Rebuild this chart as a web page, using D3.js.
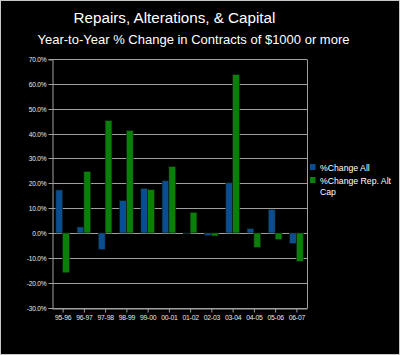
<!DOCTYPE html>
<html><head><meta charset="utf-8">
<script src="https://cdn.jsdelivr.net/npm/d3@7"></script>
<style>html,body{margin:0;padding:0;background:#000;}svg{display:block;}</style>
</head><body>
<script>
const categories = ["95-96","96-97","97-98","98-99","99-00","00-01","01-02","02-03","03-04","04-05","05-06","06-07"];
const seriesNames = ["%Change All", "%Change Rep. Alt Cap"];
const changeAll = [17.3, 2.4, -6.6, 13.0, 17.9, 21.0, -0.4, -1.0, 20.2, 1.7, 9.4, -4.2];
const changeRepAltCap = [-16.0, 24.7, 45.2, 41.2, 17.4, 26.7, 8.3, -1.2, 63.7, -5.8, -2.6, -11.4];
const yTicks = [70, 60, 50, 40, 30, 20, 10, 0, -10, -20, -30];
const title = "Repairs, Alterations, & Capital";
const subtitle = "Year-to-Year % Change in Contracts of $1000 or more";

const W = 400, H = 355;
const colors = ["#0b4d91", "#0a7f0a"];
const font = "'Liberation Sans', Arial, sans-serif";

const svg = d3.select("body").append("svg").attr("width", W).attr("height", H);
svg.append("rect").attr("x",0).attr("y",0).attr("width",W).attr("height",H).attr("fill","#000");
svg.append("rect").attr("x",0.5).attr("y",0.5).attr("width",W-1).attr("height",H-1)
  .attr("fill","none").attr("stroke","#c8c8c8").attr("stroke-width",1);

svg.append("text").attr("x",174.5).attr("y",22.5).attr("text-anchor","middle")
  .attr("fill","#fff").attr("font-family",font).attr("font-size",15.2).text(title);
svg.append("text").attr("x",193.5).attr("y",44).attr("text-anchor","middle")
  .attr("fill","#fff").attr("font-family",font).attr("font-size",13).text(subtitle);

const plot = {left:52, right:307, top:59, bottom:307.5};
const y = d3.scaleLinear().domain([-30,70]).range([plot.bottom, plot.top]);
const x0 = d3.scaleBand().domain(categories).range([plot.left, plot.right]).paddingInner(0.36).paddingOuter(0.18);
const x1 = d3.scaleBand().domain([0,1]).range([0, x0.bandwidth()]);
const xc = d3.scalePoint().domain(categories).range([plot.left, plot.right]).padding(0.5);

const g = svg.append("g");
// gridlines
g.selectAll("line.grid").data(yTicks).join("line")
  .attr("x1",plot.left).attr("x2",plot.right)
  .attr("y1",d=>Math.round(y(d))+0.5).attr("y2",d=>Math.round(y(d))+0.5)
  .attr("stroke","#a0a0a0").attr("stroke-width",1);
// frame right
g.append("line").attr("x1",plot.right+0.5).attr("x2",plot.right+0.5).attr("y1",Math.round(y(70))+0.5).attr("y2",Math.round(y(-30))+0.5)
  .attr("stroke","#a0a0a0");

// bars
const data = categories.map((c,i)=>({c, vals:[changeAll[i], changeRepAltCap[i]]}));
const bg = g.selectAll("g.cat").data(data).join("g").attr("transform",d=>`translate(${x0(d.c)},0)`);
bg.selectAll("rect").data(d=>d.vals.map((v,k)=>({v,k}))).join("rect")
  .attr("x",d=>x1(d.k)).attr("width",x1.bandwidth())
  .attr("y",d=>y(Math.max(0,d.v))).attr("height",d=>Math.abs(y(d.v)-y(0)))
  .attr("fill",d=>colors[d.k]).attr("stroke","#0a1a0a").attr("stroke-width",0.6);

// y axis
const yAxis = d3.axisLeft(y).tickValues(yTicks).tickSize(4).tickPadding(2).tickFormat(d=>d.toFixed(1)+"%");
const ya = svg.append("g").attr("transform",`translate(${plot.left+0.5},0.5)`).call(yAxis);
ya.select(".domain").attr("stroke","#a0a0a0");
ya.selectAll(".tick line").attr("stroke","#a0a0a0");
ya.selectAll(".tick text").attr("fill","#e8e8e8").attr("font-family",font).attr("font-size",6.6).attr("letter-spacing",-0.2);
ya.selectAll(".tick").attr("transform",d=>`translate(0,${Math.round(y(d))})`);

// x axis
const xAxis = d3.axisBottom(xc).tickSize(4).tickSizeOuter(0).tickPadding(3);
const xa = svg.append("g").attr("transform",`translate(0,${Math.round(plot.bottom)+0.5})`).call(xAxis);
xa.select(".domain").attr("stroke","#a0a0a0");
xa.selectAll(".tick line").attr("stroke","#a0a0a0");
xa.selectAll(".tick text").attr("fill","#e8e8e8").attr("font-family",font).attr("font-size",6.8).attr("letter-spacing",-0.2);

// legend
const leg = svg.append("g");
const legItems = [
  {name:seriesNames[0], lines:["%Change All"], y:164},
  {name:seriesNames[1], lines:["%Change Rep. Alt","Cap"], y:177}
];
legItems.forEach((it,k)=>{
  leg.append("rect").attr("x",310).attr("y",it.y).attr("width",5.5).attr("height",6)
    .attr("fill",colors[k]);
  const t = leg.append("text").attr("x",320).attr("y",it.y+7).attr("fill","#fff")
    .attr("font-family",font).attr("font-size",8.7);
  it.lines.forEach((ln,j)=>{
    t.append("tspan").attr("x",320).attr("dy",j===0?0:10.5).text(ln);
  });
});
</script>
</body></html>
